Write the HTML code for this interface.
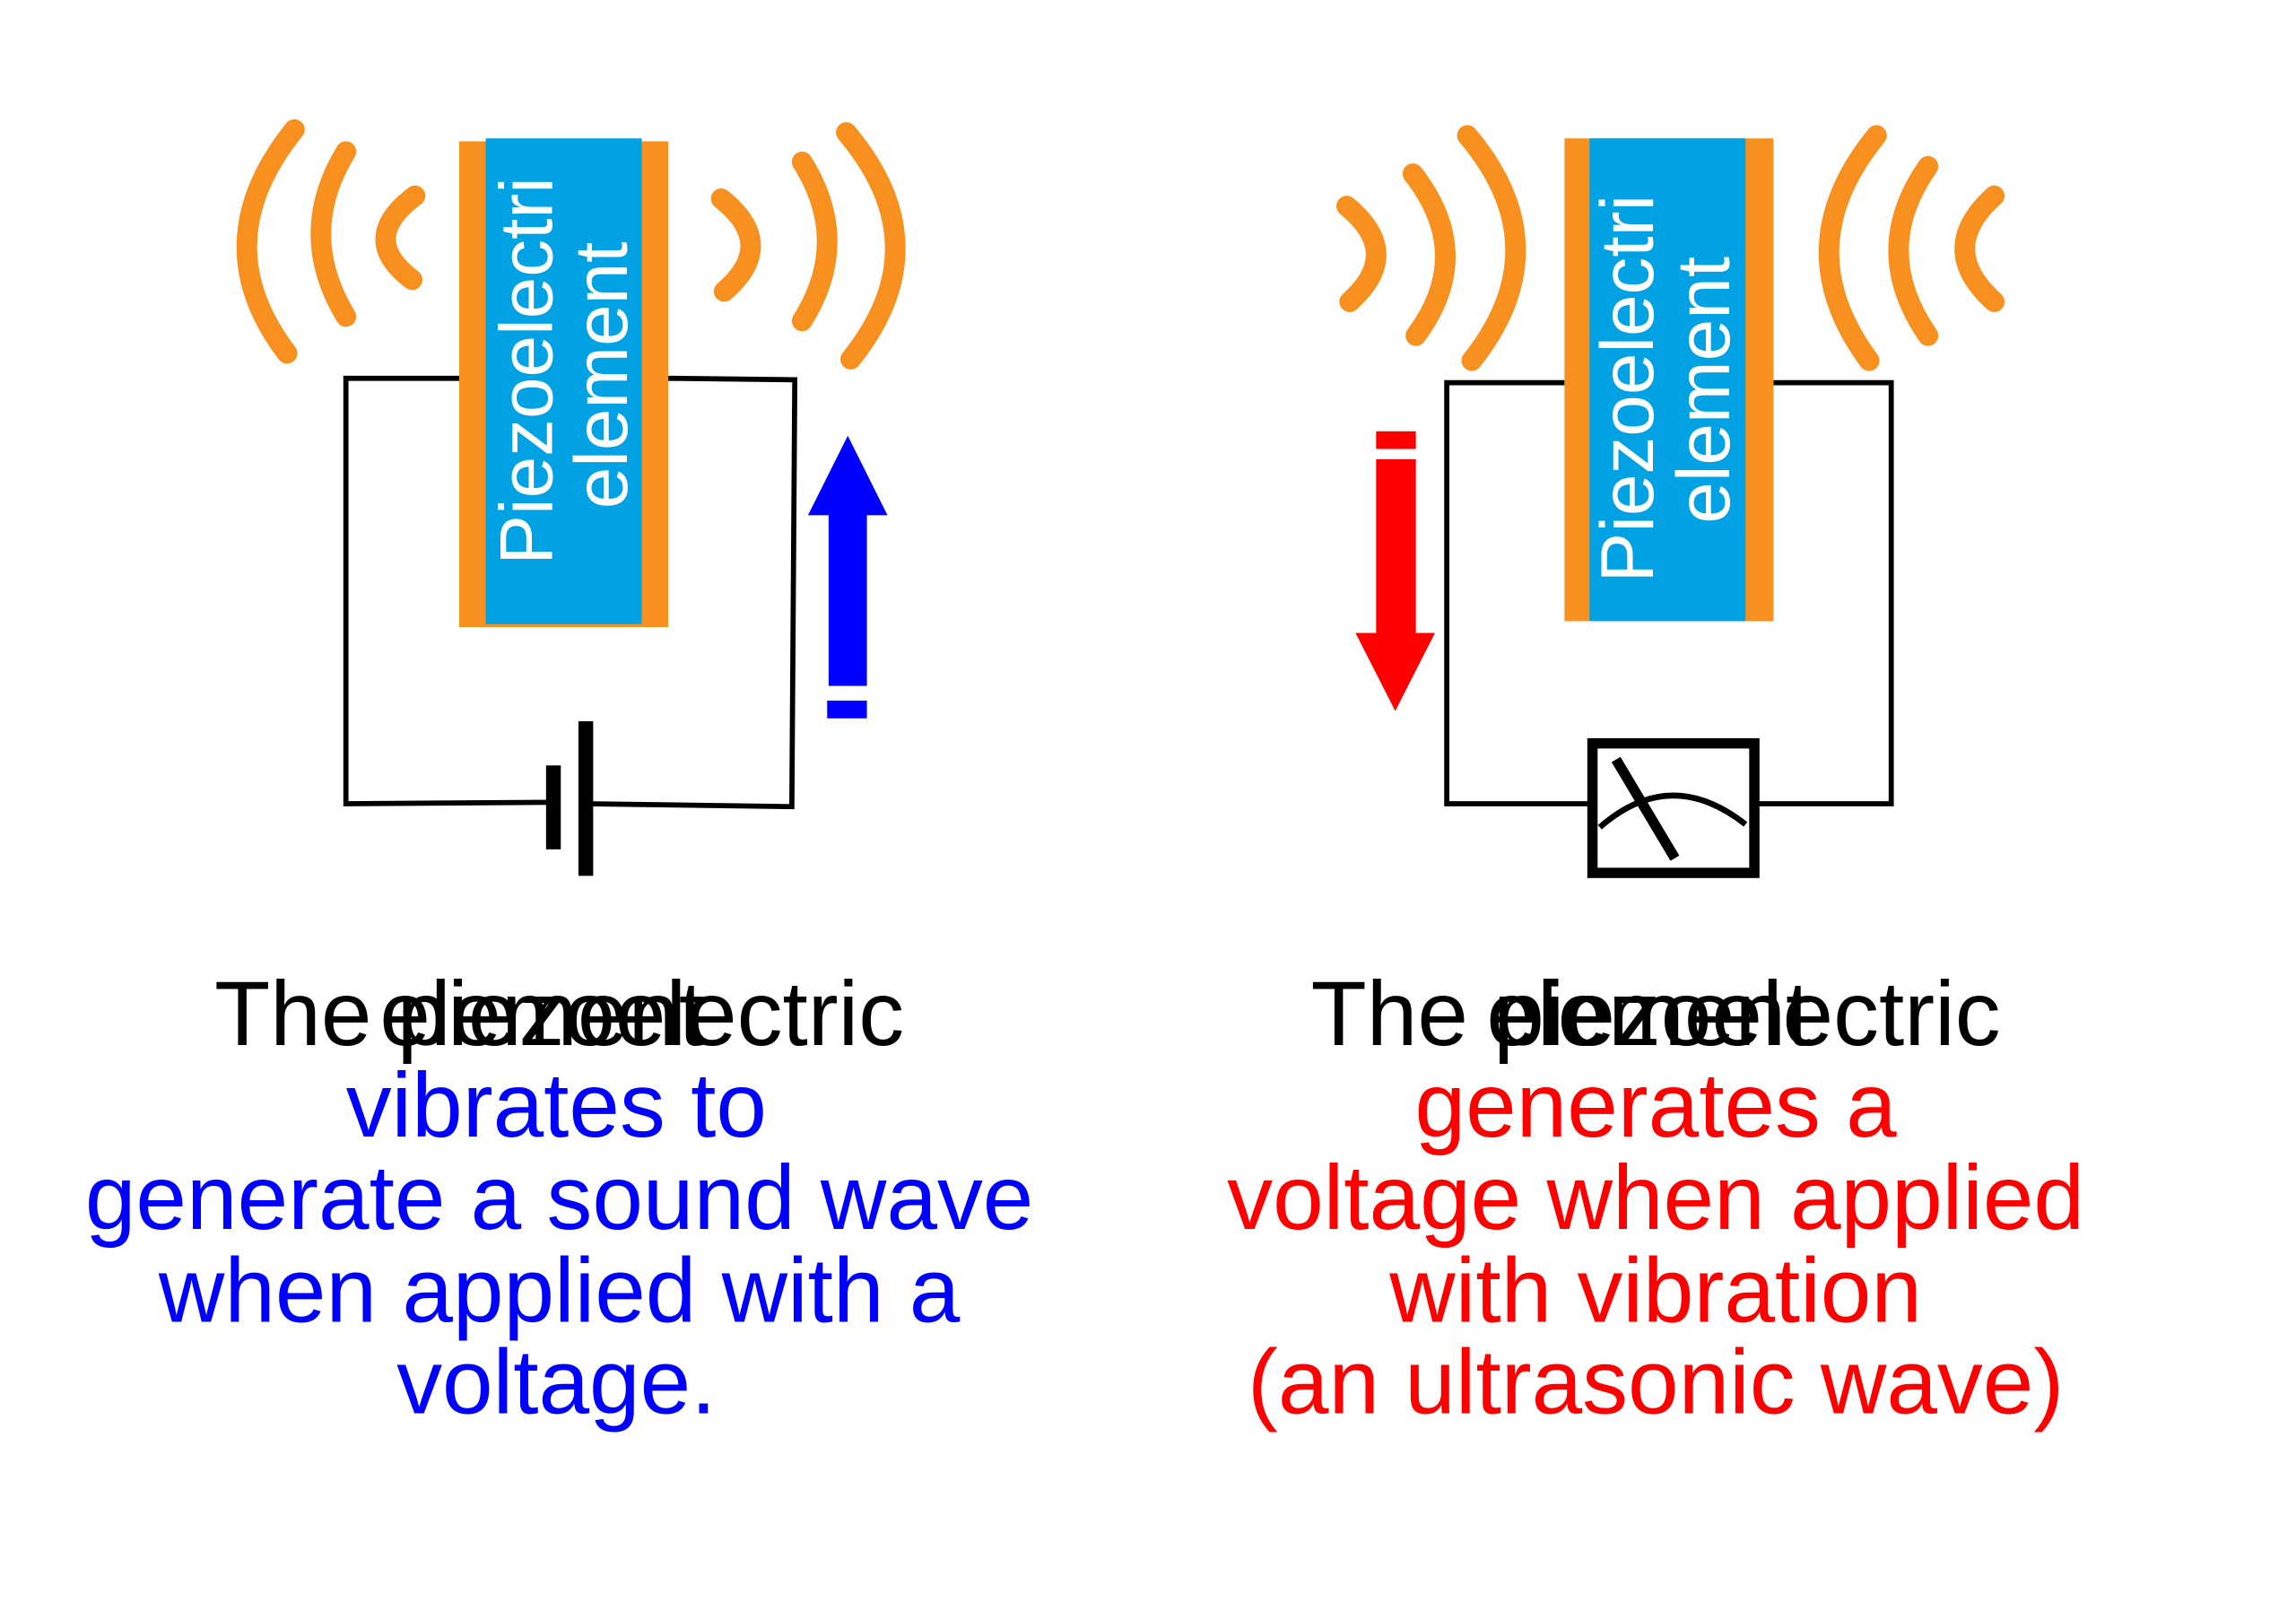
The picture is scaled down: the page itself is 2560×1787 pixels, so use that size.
<!DOCTYPE html>
<html><head><meta charset="utf-8"><style>
html,body{margin:0;padding:0;background:#fff;}
svg{display:block;}
text{font-family:"Liberation Sans",Arial,sans-serif;}
</style></head><body>
<svg width="2560" height="1787" viewBox="0 0 1560 1089" xmlns="http://www.w3.org/2000/svg">
<rect width="1560" height="1089" fill="#fff"/>
<!-- LEFT PANEL -->
<g fill="none" stroke="#000" stroke-width="3.5">
<polyline points="312,257 235,257 235,546 376,545"/>
<polyline points="454,257 540,258 538,548 398,546"/>
</g>
<rect x="371" y="520" width="10" height="57" fill="#000"/>
<rect x="393" y="490" width="10" height="105" fill="#000"/>
<rect x="312" y="96" width="142" height="330" fill="#F7901E"/>
<rect x="330" y="94" width="106" height="330" fill="#00A2E3"/>
<text transform="translate(375,252) rotate(-90)" font-size="51" fill="#fff" text-anchor="middle">Piezoelectri</text>
<text transform="translate(426,255) rotate(-90)" font-size="51" fill="#fff" text-anchor="middle">element</text>
<g fill="none" stroke="#F7901E" stroke-width="14" stroke-linecap="round">
<path d="M200,88 Q138,165 195,240"/>
<path d="M235,103 Q201,159 235,215"/>
<path d="M282,133 Q243,162 280,190"/>
<path d="M490,135 Q529,166 492,198"/>
<path d="M545,110 Q579,164 545,218"/>
<path d="M575,90 Q640,167 578,244"/>
</g>
<polygon points="576,296 603,350 589,350 589,466 563,466 563,350 549,350" fill="#0000FF"/>
<rect x="562" y="476" width="27" height="12" fill="#0000FF"/>
<!-- RIGHT PANEL -->
<g fill="none" stroke="#000" stroke-width="3.5">
<polyline points="1063,260 983,260 983,546 1082,546"/>
<polyline points="1205,260 1285,260 1285,546 1192,546"/>
</g>
<rect x="1082" y="505" width="110" height="88" fill="#fff" stroke="#000" stroke-width="7"/>
<path d="M1087,562 Q1135,520 1186,560" fill="none" stroke="#000" stroke-width="4"/>
<line x1="1098" y1="516" x2="1138" y2="583" stroke="#000" stroke-width="7"/>
<rect x="1063" y="94" width="142" height="328" fill="#F7901E"/>
<rect x="1080" y="94" width="106" height="328" fill="#00A2E3"/>
<text transform="translate(1123,264) rotate(-90)" font-size="51" fill="#fff" text-anchor="middle">Piezoelectri</text>
<text transform="translate(1175,265) rotate(-90)" font-size="51" fill="#fff" text-anchor="middle">element</text>
<g fill="none" stroke="#F7901E" stroke-width="14" stroke-linecap="round">
<path d="M915,140 Q954,172 917,205"/>
<path d="M960,118 Q1003,173 962,228"/>
<path d="M997,92 Q1061,168 1000,245"/>
<path d="M1355,133 Q1315,169 1355,205"/>
<path d="M1310,113 Q1270,170 1310,228"/>
<path d="M1275,92 Q1213,168 1270,245"/>
</g>
<rect x="935" y="293" width="27" height="12" fill="#FF0000"/>
<polygon points="935,312 962,312 962,430 975,430 948,483 921,430 935,430" fill="#FF0000"/>
<!-- TEXT -->
<g font-size="62" text-anchor="middle">
<text x="380" y="710" fill="#000">The piezoelectric</text>
<text x="363" y="710" fill="#000" text-anchor="start" dx="-105">element</text>
<text x="378" y="772" fill="#0000FF">vibrates to</text>
<text x="380" y="835" fill="#0000FF">generate a sound wave</text>
<text x="380" y="898" fill="#0000FF">when applied with a</text>
<text x="378" y="960" fill="#0000FF">voltage.</text>
<text x="1125" y="710" fill="#000">The piezoelectric</text>
<text x="1010" y="710" fill="#000" text-anchor="start">element</text>
<text x="1125" y="772" fill="#FF0000">generates a</text>
<text x="1125" y="835" fill="#FF0000">voltage when applied</text>
<text x="1125" y="898" fill="#FF0000">with vibration</text>
<text x="1125" y="960" fill="#FF0000">(an ultrasonic wave)</text>
</g>
</svg>
</body></html>
